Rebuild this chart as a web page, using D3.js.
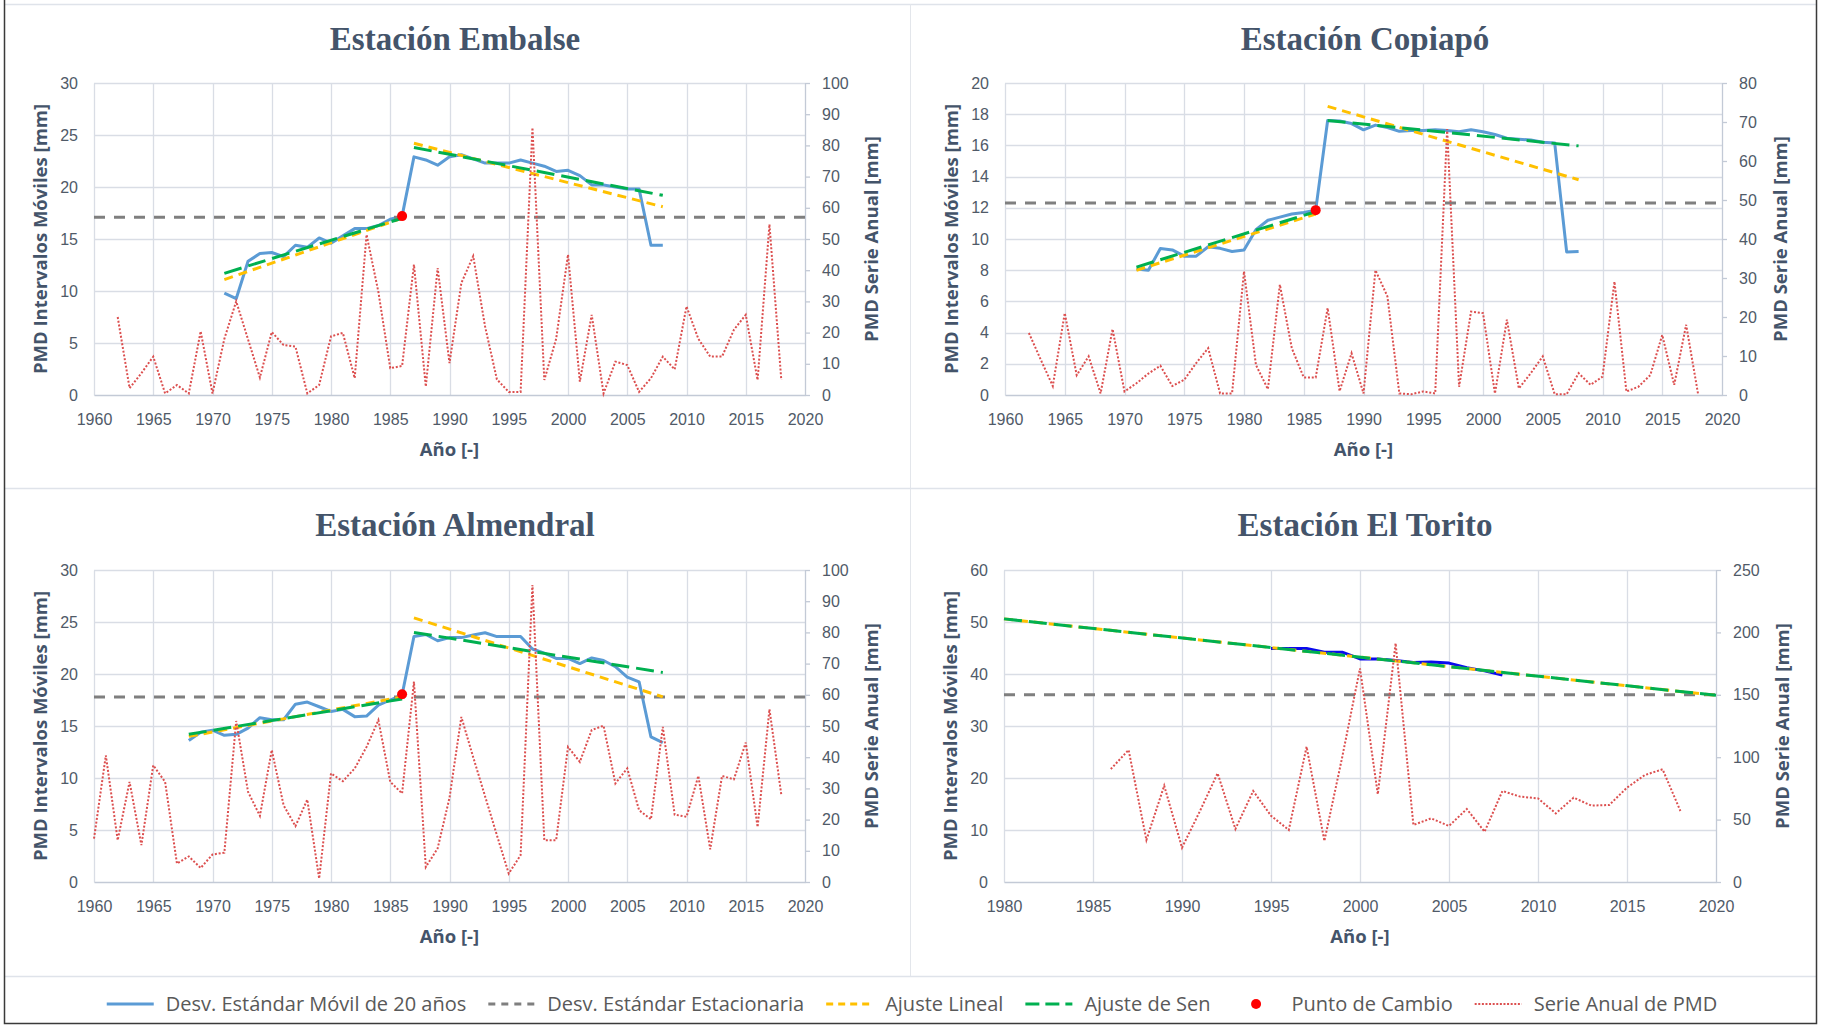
<!DOCTYPE html>
<html>
<head>
<meta charset="utf-8">
<script src="https://cdn.jsdelivr.net/npm/d3@7"></script>
<style>
  body { margin: 0; background: #ffffff; }
  svg { display: block; }
</style>
</head>
<body>
<svg id="chart" width="1822" height="1025"></svg>
<script>
// ---------------------------------------------------------------
// Station data (mm). Annual series start at the given year and run
// one value per year; moving std-dev series likewise.
// ---------------------------------------------------------------
const embalseAnnualStart = 1962;
const embalseAnnual = [25.0, 2.2, 7.0, 12.3, 0.5, 3.2, 0.5, 20.4, 0.5,
  18, 30, 17.8, 5.6, 20.2, 16, 15.5, 0.5, 3.2, 18.8,
  19.9, 5.4, 51.4, 33, 8.6, 9.3, 41.8, 2.7, 40.7, 10.2,
  35.9, 44.5, 22, 5, 1, 1, 85.7, 4.8, 18, 45,
  4.3, 25.7, 0.5, 10.7, 9.6, 1, 5.4, 12.3, 8.2, 28.4,
  18, 12.3, 12.3, 20.9, 25.7, 4.8, 54.7, 4.8];
const embalseMovingStart = 1971;
const embalseMoving = [9.8, 9.26, 12.86, 13.6, 13.7, 13.3, 14.4, 14.2, 15.1, 14.6,
  15.3, 16.0, 16.0, 16.3, 16.9, 17.2, 22.9, 22.6, 22.1, 22.9,
  23.1, 22.7, 22.3, 22.3, 22.3, 22.6, 22.3, 22.0, 21.5, 21.6,
  21.1, 20.2, 20.2, 20.0, 19.8, 19.8, 14.4, 14.4];
const embalseStationary = 17.1;
const embalseChange = [1986, 17.2];
const embalseLinear = [[[1971, 11.1], [1986, 17.0]], [[1987, 24.2], [2008, 18.1]]];
const embalseSen = [[[1971, 11.7], [1986, 17.0]], [[1987, 23.8], [2008, 19.2]]];

const copiapoAnnualStart = 1962;
const copiapoAnnual = [15.9, 9.0, 2.3, 21.0, 5.1, 9.9, 0.4, 16.9, 0.9,
  3, 5.5, 7.5, 2.3, 3.9, 8.2, 12.0, 0.4, 0.4, 31.7,
  7.7, 1.5, 28.3, 12, 4.5, 4.5, 22.3, 1, 10.7, 0.4,
  32, 25.3, 0.4, 0.2, 0.9, 0.4, 68.2, 2.1, 21.4, 21,
  0.4, 19.3, 1.7, 5.6, 9.9, 0.2, 0.2, 5.6, 2.6, 4.7,
  29.1, 0.9, 2.1, 5.1, 15.4, 2.6, 18, 0.2];
const copiapoMovingStart = 1971;
const copiapoMoving = [8.08, 8.0, 9.39, 9.3, 8.9, 8.9, 9.5, 9.4, 9.2, 9.3,
  10.6, 11.2, 11.4, 11.6, 11.7, 11.85, 17.6, 17.56, 17.4, 17.0,
  17.3, 17.15, 16.9, 16.95, 16.95, 17.0, 16.95, 16.87, 17.0, 16.87,
  16.7, 16.46, 16.4, 16.34, 16.2, 16.15, 9.17, 9.2];
const copiapoStationary = 12.3;
const copiapoChange = [1986, 11.85];
const copiapoLinear = [[[1971, 8.0], [1986, 11.6]], [[1987, 18.5], [2008, 13.8]]];
const copiapoSen = [[[1971, 8.2], [1986, 11.75]], [[1987, 17.6], [2008, 15.97]]];

const almendralAnnualStart = 1960;
const almendralAnnual = [13.9, 40.6, 13.4, 32.1, 11.8, 37.4, 32.1, 5.9, 8.2, 4.5,
  8.8, 9.4, 51.6, 28.9, 21.2, 42.3, 24.6, 17.9, 26.4, 1.1,
  34.8, 32.3, 36.4, 43.3, 51.9, 32.1, 28.4, 64.2, 4.8, 10.8,
  27, 52.9, 40, 27.5, 15, 2.7, 8.6, 95.2, 13.4, 13.4,
  43.3, 38.5, 48.7, 50.1, 31.6, 36.4, 23, 20.1, 49.7, 21.6,
  20.9, 34, 10.5, 34, 32.9, 44.7, 17.6, 55.4, 28];
const almendralMovingStart = 1968;
const almendralMoving = [13.6, 14.4, 14.6, 14.1, 14.2, 14.8, 15.8, 15.6, 15.6, 17.1,
  17.3, 16.85, 16.4, 16.6, 15.9, 15.95, 17.0, 17.5, 18.0, 23.6,
  23.8, 23.2, 23.5, 23.5, 23.75, 23.97, 23.6, 23.6, 23.6, 22.4,
  22.0, 21.5, 21.5, 21.0, 21.55, 21.3, 20.7, 19.7, 19.25, 13.96,
  13.4];
const almendralStationary = 17.8;
const almendralChange = [1986, 18.05];
const almendralLinear = [[[1968, 14.0], [1986, 17.8]], [[1987, 25.4], [2008, 17.8]]];
const almendralSen = [[[1968, 14.2], [1986, 17.6]], [[1987, 24.0], [2008, 20.15]]];

const toritoAnnualStart = 1986;
const toritoAnnual = [90.5, 105.8, 33.7, 77.2, 27.5, 56.6, 87.1, 42.5, 72.9, 53.1,
  41.7, 108.4, 32.9, 100, 171.2, 70.3, 191.3, 45.7, 51, 44.9,
  58.5, 40.3, 72.9, 68.4, 67, 55, 67.6, 61.2, 61.7, 75.6,
  85.7, 90.3, 56.9];
const toritoMovingStart = 1995;
const toritoMoving = [44.9, 44.9, 44.9, 44.2, 44.2, 42.9, 42.9, 42.6, 42.2, 42.3,
  42.1, 41.2, 40.6, 39.8];
const toritoStationary = 36.0;
const toritoChange = null;
const toritoLinear = [[[1980, 50.6], [2020, 35.9]]];
const toritoSen = [[[1980, 50.6], [2020, 35.9]]];

// Axis tick values
const yearTicks1960 = [1960, 1965, 1970, 1975, 1980, 1985, 1990, 1995, 2000, 2005, 2010, 2015, 2020];
const yearTicks1980 = [1980, 1985, 1990, 1995, 2000, 2005, 2010, 2015, 2020];
const embalseLeftTicks = [0, 5, 10, 15, 20, 25, 30];
const embalseRightTicks = [0, 10, 20, 30, 40, 50, 60, 70, 80, 90, 100];
const copiapoLeftTicks = [0, 2, 4, 6, 8, 10, 12, 14, 16, 18, 20];
const copiapoRightTicks = [0, 10, 20, 30, 40, 50, 60, 70, 80];
const almendralLeftTicks = [0, 5, 10, 15, 20, 25, 30];
const almendralRightTicks = [0, 10, 20, 30, 40, 50, 60, 70, 80, 90, 100];
const toritoLeftTicks = [0, 10, 20, 30, 40, 50, 60];
const toritoRightTicks = [0, 50, 100, 150, 200, 250];

const legendLabels = ["Desv. Estándar Móvil de 20 años", "Desv. Estándar Estacionaria",
  "Ajuste Lineal", "Ajuste de Sen", "Punto de Cambio", "Serie Anual de PMD"];

// ---------------------------------------------------------------
// Styling
// ---------------------------------------------------------------
const C = {
  moving: "#5B9BD5",
  movingDark: "#0a0aee",
  stationary: "#7F7F7F",
  linear: "#FFC000",
  sen: "#00B050",
  change: "#FF0000",
  annual: "#dc4f4f",
  grid: "#d9dde5",
  axis: "#c3cad6",
  tick: "#505a68",
  title: "#44546A"
};
const FONT = "'Open Sans', 'Liberation Sans', sans-serif";

const svg = d3.select("#chart");

// Frame of the figure: four chart cells and a legend strip
const frame = svg.append("g");
frame.append("rect").attr("x", 0).attr("y", 0).attr("width", 1822).attr("height", 1025).attr("fill", "#fff");
frame.append("line").attr("x1", 5).attr("x2", 1816).attr("y1", 4.5).attr("y2", 4.5).attr("stroke", "#dfe3ea").attr("stroke-width", 1.5);
frame.append("line").attr("x1", 910.5).attr("x2", 910.5).attr("y1", 4).attr("y2", 976).attr("stroke", "#e3e6eb").attr("stroke-width", 1);
frame.append("line").attr("x1", 5).attr("x2", 1816).attr("y1", 488.5).attr("y2", 488.5).attr("stroke", "#dfe3ea").attr("stroke-width", 1.5);
frame.append("line").attr("x1", 5).attr("x2", 1816).attr("y1", 976.5).attr("y2", 976.5).attr("stroke", "#dfe3ea").attr("stroke-width", 1.5);
frame.append("path").attr("d", "M4.5,0V1023.5H1816.5V0").attr("fill", "none").attr("stroke", "#3a3a3a").attr("stroke-width", 1.5);

function series(start, values) {
  return values.map((v, i) => ({ year: start + i, value: v }));
}

function drawPanel(p) {
  const g = svg.append("g");
  const x = d3.scaleLinear().domain(p.xDomain).range([p.left, p.right]);
  const yL = d3.scaleLinear().domain([0, d3.max(p.leftTicks)]).range([p.bottom, p.top]);
  const yR = d3.scaleLinear().domain([0, d3.max(p.rightTicks)]).range([p.bottom, p.top]);

  // gridlines
  g.append("g").selectAll("line.h").data(p.leftTicks.filter(d => d > 0)).join("line")
    .attr("x1", p.left).attr("x2", p.right)
    .attr("y1", d => Math.round(yL(d)) + 0.5).attr("y2", d => Math.round(yL(d)) + 0.5)
    .attr("stroke", C.grid).attr("stroke-width", 1.3);
  g.append("g").selectAll("line.v").data(p.xTicks.filter(d => d > p.xDomain[0] && d < p.xDomain[1])).join("line")
    .attr("x1", d => Math.round(x(d)) + 0.5).attr("x2", d => Math.round(x(d)) + 0.5)
    .attr("y1", p.top).attr("y2", p.bottom)
    .attr("stroke", C.grid).attr("stroke-width", 1.3);

  // axes
  const ax = g.append("g").attr("font-family", FONT);
  const left = ax.append("g").attr("transform", `translate(${p.left},0)`)
    .call(d3.axisLeft(yL).tickValues(p.leftTicks).tickSize(0).tickPadding(16).tickFormat(d3.format("d")));
  left.select(".domain").attr("stroke", C.grid).attr("stroke-width", 1.3);
  const right = ax.append("g").attr("transform", `translate(${p.right},0)`)
    .call(d3.axisRight(yR).tickValues(p.rightTicks).tickSize(5).tickSizeOuter(0).tickPadding(12).tickFormat(d3.format("d")));
  right.select(".domain").attr("stroke", C.axis).attr("stroke-width", 1.3);
  right.selectAll(".tick line").attr("stroke", C.axis).attr("stroke-width", 1.3);
  const bottom = ax.append("g").attr("transform", `translate(0,${p.bottom})`)
    .call(d3.axisBottom(x).tickValues(p.xTicks).tickSize(0).tickPadding(19).tickFormat(d3.format("d")));
  bottom.select(".domain").attr("stroke", C.axis).attr("stroke-width", 1.5);
  ax.selectAll(".tick text").attr("font-size", 16).attr("fill", C.tick);

  // axis titles
  const titles = g.append("g").attr("font-family", FONT).attr("font-weight", 700)
    .attr("font-size", 18.5).attr("fill", C.title).attr("text-anchor", "middle");
  const midY = (p.top + p.bottom) / 2;
  titles.append("text").attr("transform", `translate(${p.leftTitleX},${midY}) rotate(-90)`)
    .attr("dy", "0.35em").text("PMD Intervalos Móviles [mm]");
  titles.append("text").attr("transform", `translate(${p.rightTitleX},${midY}) rotate(-90)`)
    .attr("dy", "0.35em").text("PMD Serie Anual [mm]");
  titles.append("text").attr("x", (p.left + p.right) / 2).attr("y", p.bottom + 61).text("Año [-]");

  // chart title
  g.append("text").attr("x", p.titleX).attr("y", p.titleY).attr("text-anchor", "middle")
    .attr("font-family", "'Liberation Serif', 'Times New Roman', serif").attr("font-weight", 700)
    .attr("font-size", 33).attr("fill", C.title).text(p.name);

  const lineL = d3.line().x(d => x(d.year)).y(d => yL(d.value));
  const lineR = d3.line().x(d => x(d.year)).y(d => yR(d.value));
  const marks = g.append("g").attr("fill", "none");

  // moving 20-year standard deviation
  marks.append("path").datum(series(p.movingStart, p.moving)).attr("d", lineL)
    .attr("stroke", p.movingColor).attr("stroke-width", 3).attr("stroke-linejoin", "round");

  // stationary standard deviation
  marks.append("path").datum([{ year: p.xDomain[0], value: p.stationary }, { year: p.xDomain[1], value: p.stationary }])
    .attr("d", lineL).attr("stroke", C.stationary).attr("stroke-width", 3).attr("stroke-dasharray", "11,9");

  // linear fits
  p.linear.forEach(seg => {
    marks.append("path").datum(seg.map(([yr, v]) => ({ year: yr, value: v }))).attr("d", lineL)
      .attr("stroke", C.linear).attr("stroke-width", 3).attr("stroke-dasharray", "9,6");
  });
  // Sen fits
  p.sen.forEach(seg => {
    marks.append("path").datum(seg.map(([yr, v]) => ({ year: yr, value: v }))).attr("d", lineL)
      .attr("stroke", C.sen).attr("stroke-width", 3).attr("stroke-dasharray", "18,7");
  });

  // change point
  if (p.change) {
    marks.append("circle").attr("cx", x(p.change[0])).attr("cy", yL(p.change[1])).attr("r", 5)
      .attr("fill", C.change);
  }

  // annual PMD series (secondary axis)
  marks.append("path").datum(series(p.annualStart, p.annual)).attr("d", lineR)
    .attr("stroke", C.annual).attr("stroke-width", 2).attr("stroke-dasharray", "2,1.8");
}

const panels = [
  { name: "Estación Embalse", left: 94, right: 805, top: 83, bottom: 395,
    xDomain: [1960, 2020], xTicks: yearTicks1960, leftTicks: embalseLeftTicks, rightTicks: embalseRightTicks,
    leftTitleX: 41, rightTitleX: 872, titleX: 455, titleY: 50,
    annualStart: embalseAnnualStart, annual: embalseAnnual, movingStart: embalseMovingStart, moving: embalseMoving,
    movingColor: C.moving, stationary: embalseStationary, change: embalseChange, linear: embalseLinear, sen: embalseSen },
  { name: "Estación Copiapó", left: 1005, right: 1722, top: 83, bottom: 395,
    xDomain: [1960, 2020], xTicks: yearTicks1960, leftTicks: copiapoLeftTicks, rightTicks: copiapoRightTicks,
    leftTitleX: 952, rightTitleX: 1781, titleX: 1365, titleY: 50,
    annualStart: copiapoAnnualStart, annual: copiapoAnnual, movingStart: copiapoMovingStart, moving: copiapoMoving,
    movingColor: C.moving, stationary: copiapoStationary, change: copiapoChange, linear: copiapoLinear, sen: copiapoSen },
  { name: "Estación Almendral", left: 94, right: 805, top: 570, bottom: 882,
    xDomain: [1960, 2020], xTicks: yearTicks1960, leftTicks: almendralLeftTicks, rightTicks: almendralRightTicks,
    leftTitleX: 41, rightTitleX: 872, titleX: 455, titleY: 536,
    annualStart: almendralAnnualStart, annual: almendralAnnual, movingStart: almendralMovingStart, moving: almendralMoving,
    movingColor: C.moving, stationary: almendralStationary, change: almendralChange, linear: almendralLinear, sen: almendralSen },
  { name: "Estación El Torito", left: 1004, right: 1716, top: 570, bottom: 882,
    xDomain: [1980, 2020], xTicks: yearTicks1980, leftTicks: toritoLeftTicks, rightTicks: toritoRightTicks,
    leftTitleX: 951, rightTitleX: 1783, titleX: 1365, titleY: 536,
    annualStart: toritoAnnualStart, annual: toritoAnnual, movingStart: toritoMovingStart, moving: toritoMoving,
    movingColor: C.movingDark, stationary: toritoStationary, change: toritoChange, linear: toritoLinear, sen: toritoSen }
];
panels.forEach(drawPanel);

// ---------------------------------------------------------------
// Legend
// ---------------------------------------------------------------
const legend = svg.append("g").attr("font-family", FONT).attr("font-size", 20).attr("fill", "#595959");
const sampleW = 47, textGap = 12, itemGap = 22, legendY = 1004;
const items = legend.selectAll("g.item").data(legendLabels).join("g");
items.append("text").attr("x", sampleW + textGap).attr("y", 0).attr("dy", "0.35em").text(d => d);
let cursor = 0;
const widths = [];
items.each(function () {
  const w = this.querySelector("text").getComputedTextLength();
  widths.push(sampleW + textGap + w);
});
const total = d3.sum(widths) + itemGap * (widths.length - 1);
cursor = 912 - total / 2;
items.attr("transform", (d, i) => {
  const t = `translate(${cursor},${legendY})`;
  cursor += widths[i] + itemGap;
  return t;
});
const sampleStyles = [
  { stroke: C.moving, dash: null, w: 3 },
  { stroke: C.stationary, dash: "7,6", w: 3 },
  { stroke: C.linear, dash: "7,5", w: 3 },
  { stroke: C.sen, dash: "14,6", w: 3 },
  null,
  { stroke: C.annual, dash: "2,1.6", w: 2 }
];
items.each(function (d, i) {
  const s = sampleStyles[i];
  const sel = d3.select(this);
  if (s) {
    sel.append("line").attr("x1", 0).attr("x2", sampleW).attr("y1", 0).attr("y2", 0)
      .attr("stroke", s.stroke).attr("stroke-width", s.w).attr("stroke-dasharray", s.dash);
  } else {
    sel.append("circle").attr("cx", sampleW / 2).attr("cy", 0).attr("r", 5).attr("fill", C.change);
  }
});
</script>
</body>
</html>
